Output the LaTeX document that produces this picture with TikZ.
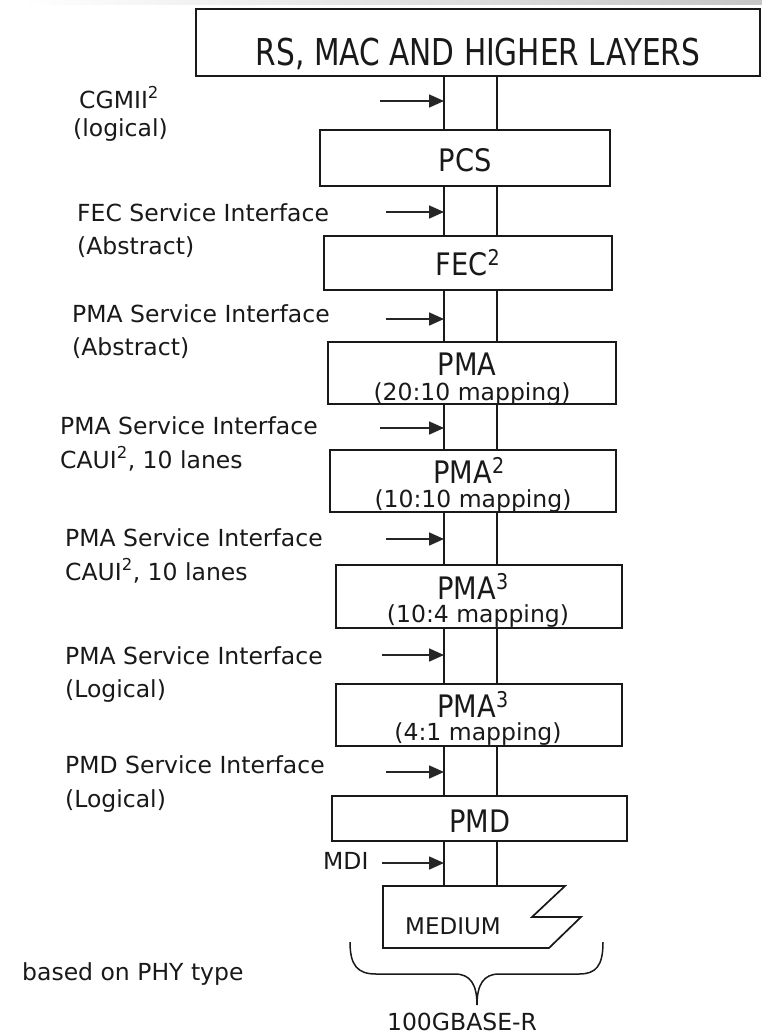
\documentclass[tikz,border=0pt]{standalone}
\usepackage{fontspec}
\setmainfont{DejaVu Sans}
\newfontfamily\narrowfont{DejaVu Sans}[FakeStretch=0.8]
\newfontfamily\boxfont{DejaVu Sans}[FakeStretch=0.88]
\usetikzlibrary{arrows.meta,calc}

\begin{document}
\begin{tikzpicture}[x=1pt, y=-1pt,
    layer/.style={draw=black!90, line width=1.7pt, inner sep=0pt, outer sep=0pt, anchor=north west},
    wire/.style={draw=black!90, line width=1.7pt},
    ptr/.style={draw=black!85, line width=1.7pt, -{Triangle[length=15pt,width=13pt]}},
    txt/.style={anchor=base, inner sep=0pt, text=black!90},
    lbl/.style={anchor=base west, inner sep=0pt, text=black!90, font=\fontsize{23.5}{30}\selectfont},
    boxlbl/.style={txt, font=\boxfont\fontsize{31}{34}\selectfont},
    maplbl/.style={txt, font=\fontsize{23.5}{28}\selectfont}
]
    \useasboundingbox (0,0) rectangle (762,1034);

    % --- Szürke sáv felül ---
    \shade[left color=white, right color=gray!45] (20,0) rectangle (762,4);

    % --- Rétegek ---
    \node[layer, minimum width=564pt, minimum height=67pt] (top) at (196,9) {};
    \node[txt, font=\narrowfont\fontsize{37}{40}\selectfont] (topt) at (478,65) {RS, MAC AND HIGHER LAYERS};

    \node[layer, minimum width=290pt, minimum height=56pt] (pcs) at (320,130) {};
    \node[boxlbl] (pcst) at (465,171) {PCS};

    \node[layer, minimum width=288pt, minimum height=54pt] (fec) at (324,236) {};
    \node[boxlbl] (fect) at (468,275) {FEC\textsuperscript{2}};

    \node[layer, minimum width=288pt, minimum height=62pt] (pmaA) at (328,342) {};
    \node[boxlbl] (pmaAt) at (467,375) {PMA};
    \node[maplbl] (pmaAm) at (472,400) {(20:10 mapping)};

    \node[layer, minimum width=286pt, minimum height=62pt] (pmaB) at (330,450) {};
    \node[boxlbl] (pmaBt) at (469,483) {PMA\textsuperscript{2}};
    \node[maplbl] (pmaBm) at (473,507) {(10:10 mapping)};

    \node[layer, minimum width=286pt, minimum height=63pt] (pmaC) at (336,565) {};
    \node[boxlbl] (pmaCt) at (473,599) {PMA\textsuperscript{3}};
    \node[maplbl] (pmaCm) at (478,622) {(10:4 mapping)};

    \node[layer, minimum width=286pt, minimum height=62pt] (pmaD) at (336,684) {};
    \node[boxlbl] (pmaDt) at (473,717) {PMA\textsuperscript{3}};
    \node[maplbl] (pmaDm) at (478,740) {(4:1 mapping)};

    \node[layer, minimum width=295pt, minimum height=45pt] (pmd) at (332,796) {};
    \node[boxlbl] (pmdt) at (480,832) {PMD};

    % --- Közeg (Medium) ---
    \coordinate (med) at (383,886);
    \draw[wire, line join=miter] (med) -- (565,886) -- (532,917) -- (581,917) -- (549,948) -- (383,948) -- cycle;
    \node[txt, font=\fontsize{23}{28}\selectfont] (medt) at (453,934) {MEDIUM};

    % --- Összekötő vonalak ---
    \coordinate (lx) at (444,0);
    \coordinate (rx) at (497,0);
    \foreach \a/\b in {top/pcs, pcs/fec, fec/pmaA, pmaA/pmaB, pmaB/pmaC, pmaC/pmaD, pmaD/pmd} {
        \draw[wire] (\a.south -| lx) -- (\b.north -| lx);
        \draw[wire] (\a.south -| rx) -- (\b.north -| rx);
    }
    \draw[wire] (pmd.south -| lx) -- (med -| lx) -- (med -| rx) -- (pmd.south -| rx);

    % --- Interfészek ---
    \node[lbl] (cgmii) at (79,108) {CGMII\textsuperscript{2}};
    \node[lbl] (cgmiib) at (73,136) {(logical)};
    \node[lbl] (fecsi) at (77,221) {FEC Service Interface};
    \node[lbl] (fecsib) at (77,254) {(Abstract)};
    \node[lbl] (pmasiA) at (72,322) {PMA Service Interface};
    \node[lbl] (pmasiAb) at (72,355) {(Abstract)};
    \node[lbl] (pmasiB) at (60,434) {PMA Service Interface};
    \node[lbl] (pmasiBb) at (60,468) {CAUI\textsuperscript{2}, 10 lanes};
    \node[lbl] (pmasiC) at (65,546) {PMA Service Interface};
    \node[lbl] (pmasiCb) at (65,580) {CAUI\textsuperscript{2}, 10 lanes};
    \node[lbl] (pmasiD) at (65,664) {PMA Service Interface};
    \node[lbl] (pmasiDb) at (65,697) {(Logical)};
    \node[lbl] (pmdsi) at (65,773) {PMD Service Interface};
    \node[lbl] (pmdsib) at (65,807) {(Logical)};
    \node[lbl] (mdi) at (323,869) {MDI};

    % Nyilak a vonalig
    \foreach \y/\x in {101/380, 212/386, 319/386, 428/380, 539/386, 655/382, 772/386, 863/382} {
        \coordinate (tail) at (\x,\y);
        \draw[ptr] (tail) -- (tail -| lx);
    }

    % --- Kapcsos zárójel ---
    \draw[wire, line width=1.5pt] (350,942) .. controls (350,966) and (358,974) .. (376,974) -- (455,974)
        .. controls (470,974) and (477,984) .. (477,1005)
        .. controls (477,984) and (484,974) .. (499,974) -- (579,974)
        .. controls (596,974) and (603,966) .. (603,942);
    \node[txt, font=\fontsize{23.5}{28}\selectfont] (phy) at (462,1030) {100GBASE-R};
    \node[lbl] (based) at (22,980) {based on PHY type};

\end{tikzpicture}
\end{document}
